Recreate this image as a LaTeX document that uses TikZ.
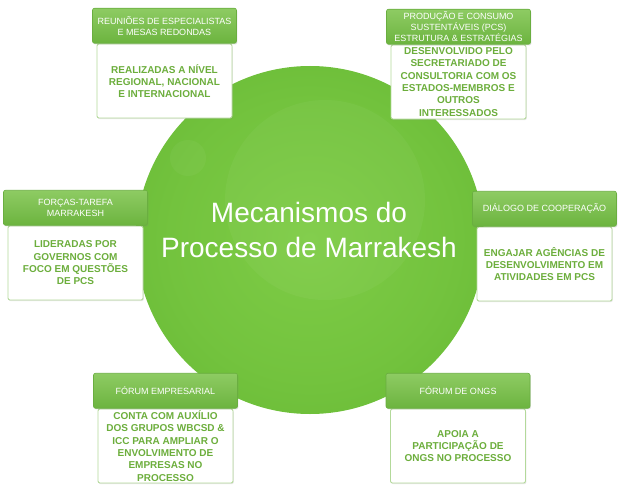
\documentclass[tikz,border=0pt]{standalone}
\usepackage{fontspec}
\setmainfont{Liberation Sans}
\usetikzlibrary{positioning,shadows}
\definecolor{hubin}{HTML}{7ECC46}
\definecolor{hubout}{HTML}{5AAE2B}
\definecolor{hdrtop}{HTML}{8ECB63}
\definecolor{hdrbot}{HTML}{6CB43F}
\definecolor{hdrline}{HTML}{6AAE40}
\definecolor{boxline}{HTML}{B3D99A}
\definecolor{boxtext}{HTML}{6CAE3C}
\pgfdeclareradialshading{hubshade}{\pgfpoint{0bp}{0bp}}{color(0bp)=(hubin); color(20bp)=(hubin!70!hubout); color(50bp)=(hubout)}

\begin{document}
\begin{tikzpicture}[x=1pt,y=-1pt,line cap=round,line join=round,
	hdr/.style={rectangle,rounded corners=2pt,draw=hdrline,line width=0.6pt,top color=hdrtop,bottom color=hdrbot,
		minimum width=144pt,minimum height=35pt,inner sep=1pt,align=center,text=white,
		font=\fontsize{9}{10.8}\selectfont,drop shadow={opacity=0.22,shadow xshift=0.8pt,shadow yshift=-1.2pt}},
	txtbox/.style={rectangle,rounded corners=2pt,draw=boxline,line width=0.9pt,fill=white,
		minimum width=135pt,minimum height=74pt,inner sep=1pt,align=center,text=boxtext,
		font=\fontsize{10}{12.3}\selectfont\bfseries,drop shadow={opacity=0.18,shadow xshift=0.8pt,shadow yshift=-1.2pt}}]
		\useasboundingbox (0,0) rectangle (620,500);
		\node[circle,minimum size=348pt,inner sep=0pt,shading=hubshade] (hub) at (310,240) {};
		\fill[white,opacity=0.04] (325,200) circle (100pt);
		\fill[white,opacity=0.04] (188,158) circle (18pt);
		\node[text=white,align=center,font=\fontsize{28}{35}\selectfont] (title) at (309,230) {Mecanismos do\\Processo de Marrakesh};

		\node[txtbox] (reunioes) at (164.5,81) {REALIZADAS A NÍVEL\\REGIONAL, NACIONAL\\E INTERNACIONAL};
		\node[hdr,above=0pt of reunioes] (reunioesh) {REUNIÕES DE ESPECIALISTAS\\E MESAS REDONDAS};

		\node[txtbox] (pcs) at (458.5,82) {DESENVOLVIDO PELO\\SECRETARIADO DE\\CONSULTORIA COM OS\\ESTADOS-MEMBROS E\\OUTROS\\INTERESSADOS};
		\node[hdr,above=0pt of pcs] (pcsh) {PRODUÇÃO E CONSUMO\\SUSTENTÁVEIS (PCS)\\ESTRUTURA \& ESTRATÉGIAS};

		\node[txtbox] (forcas) at (75.5,263) {LIDERADAS POR\\GOVERNOS COM\\FOCO EM QUESTÕES\\DE PCS};
		\node[hdr,above=0pt of forcas] (forcash) {FORÇAS-TAREFA\\MARRAKESH};

		\node[txtbox] (dialogo) at (544.5,264) {ENGAJAR AGÊNCIAS DE\\DESENVOLVIMENTO EM\\ATIVIDADES EM PCS};
		\node[hdr,above=0pt of dialogo] (dialogoh) {DIÁLOGO DE COOPERAÇÃO};

		\node[txtbox] (empresas) at (165.5,446) {CONTA COM AUXÍLIO\\DOS GRUPOS WBCSD \&\\ICC PARA AMPLIAR O\\ENVOLVIMENTO DE\\EMPRESAS NO\\PROCESSO};
		\node[hdr,above=0pt of empresas] (empresash) {FÓRUM EMPRESARIAL};

		\node[txtbox] (ongs) at (458,446) {APOIA A\\PARTICIPAÇÃO DE\\ONGS NO PROCESSO};
		\node[hdr,above=0pt of ongs] (ongsh) {FÓRUM DE ONGS};
	\end{tikzpicture}
\end{document}
